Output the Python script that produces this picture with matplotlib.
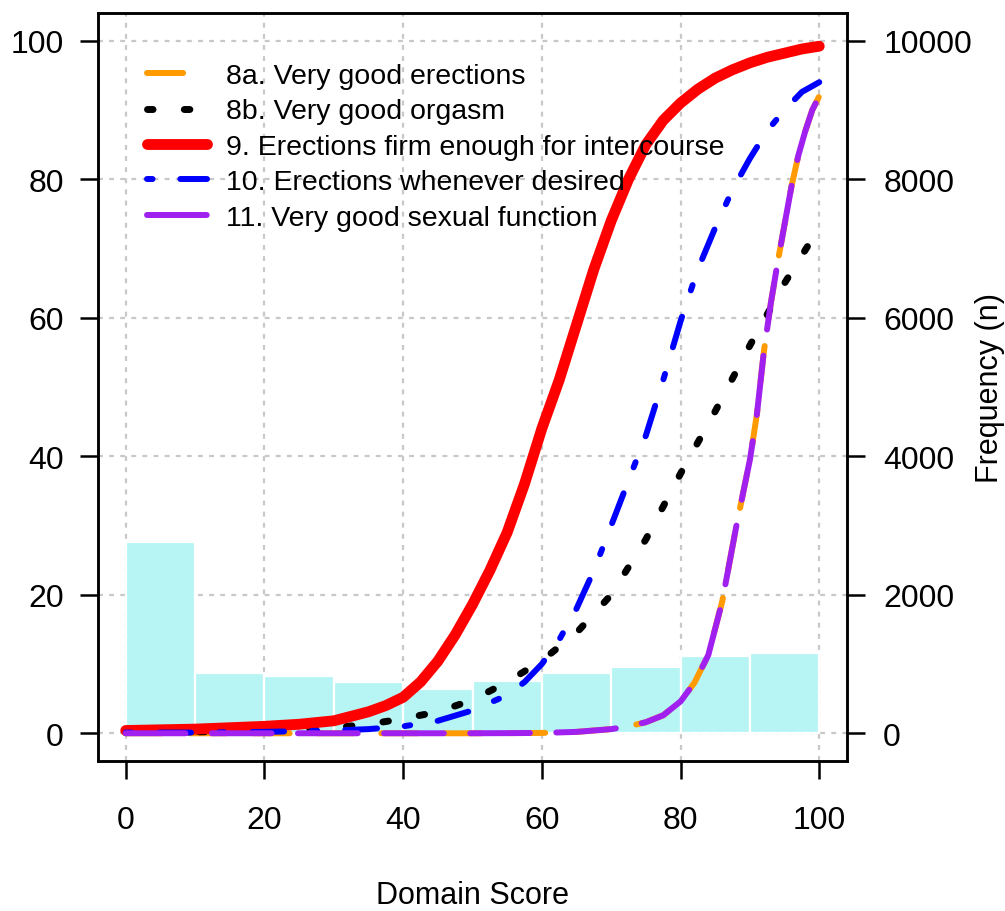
import numpy as np
import matplotlib
matplotlib.use("Agg")
import matplotlib.pyplot as plt

plt.rcParams['font.family'] = ['Liberation Sans', 'DejaVu Sans']
plt.rcParams['lines.scale_dashes'] = False

# histogram of domain scores (right axis, counts)
bin_left = [0, 10, 20, 30, 40, 50, 60, 70, 80, 90]
bin_counts = [2766, 866, 832, 746, 645, 760, 866, 962, 1116, 1164]

# probability curves (left axis, %)
red_x = [0, 5, 10, 15, 20, 25, 30, 35, 37.5, 40, 42.5, 45, 47.5, 50, 52.5, 55, 57.5, 60,
         62.5, 65, 67.5, 70, 72.5, 75, 77.5, 80, 82.5, 85, 87.5, 90, 92.5, 95, 97.5, 100]
red_y = [0.4, 0.5, 0.6, 0.8, 1.0, 1.3, 1.8, 3.1, 4.0, 5.2, 7.4, 10.4, 14.2, 18.6, 23.5, 29, 36, 44,
         51, 59, 67, 74, 80, 85, 88.5, 91, 93, 94.6, 95.8, 96.8, 97.6, 98.2, 98.8, 99.2]

blue_x = [0, 10, 20, 25, 30, 35, 40, 45, 50, 55, 57.5, 60, 62.5, 65, 67.5, 70, 72.5, 75,
          77.5, 80, 82.5, 85, 87.5, 90, 92.5, 95, 97.5, 100]
blue_y = [0.1, 0.1, 0.2, 0.3, 0.4, 0.6, 1.0, 1.8, 3.3, 5.5, 7.4, 10, 13.5, 18, 23.5, 30, 36.5, 43,
          51, 59.5, 67, 73, 78.5, 83, 87, 90, 92.6, 94]

black_x = [0, 10, 20, 25, 30, 35, 40, 45, 50, 55, 60, 65, 70, 75, 80, 85, 90, 95, 100]
black_y = [0.1, 0.2, 0.4, 0.6, 0.8, 1.3, 2.1, 3.1, 4.8, 7.4, 10.5, 14.5, 20, 28, 37.5, 46.5, 56, 65, 73]

purple_x = [0, 20, 40, 50, 55, 60, 65, 70, 72.5, 75, 77.5, 80, 82, 84, 86, 88, 90, 91, 92,
            93, 94, 95, 96, 97, 98, 99, 100]
purple_y = [0, 0, 0, 0, 0.02, 0.05, 0.2, 0.6, 1.0, 1.6, 2.6, 4.6, 7.3, 11.3, 19, 29.7, 39.5, 46, 55,
            62, 68, 73.5, 79, 83.5, 87, 90, 92]

orange_x = [0, 20, 40, 50, 55, 60, 65, 70, 72.5, 75, 77.5, 80, 82, 84, 86, 88, 90, 91, 92,
            93, 94, 95, 96, 97, 98, 99, 100]
orange_y = [0, 0, 0, 0, 0.02, 0.05, 0.2, 0.6, 1.0, 1.6, 2.6, 4.6, 7.3, 11.3, 19, 29.7, 39.5, 46, 55,
            62, 68, 73.5, 79, 83.5, 87, 90, 92]

labels = ["8a. Very good erections",
          "8b. Very good orgasm",
          "9. Erections firm enough for intercourse",
          "10. Erections whenever desired",
          "11. Very good sexual function"]

fs_tick = 23
fs_lab = 22
fs_leg = 20.5

fig = plt.figure(figsize=(10.05, 9.12), dpi=100)
ax = fig.add_axes([0.0975, 0.1645, 0.7453, 0.8202])
ax2 = ax.twinx()
ax.set_zorder(ax2.get_zorder() + 1)
ax.patch.set_visible(False)

# bars + grid on the right axis
ax2.set_axisbelow(True)
ax2.bar(bin_left, bin_counts, width=10, align='edge', color='#b7f4f4',
        edgecolor='white', linewidth=1.6)
ax2.set_ylim(-400, 10400)
ax2.set_yticks([0, 2000, 4000, 6000, 8000, 10000])
for g in [0, 20, 40, 60, 80, 100]:
    ax2.axvline(g, color='#c8c8c8', lw=1.6, dashes=(3.5, 4.5), zorder=0)
    ax2.axhline(g * 100, color='#c8c8c8', lw=1.6, dashes=(3.5, 4.5), zorder=0)

# curves on the left axis
ax.plot(orange_x, orange_y, color='#ff9a00', lw=4.3, dashes=(26, 20),
        dash_capstyle='round', label=labels[0])
ax.plot(black_x, black_y, color='black', lw=5, dashes=(4, 22.5),
        dash_capstyle='round', label=labels[1])
ax.plot(red_x, red_y, color='#ff0000', lw=7.8, solid_capstyle='round',
        solid_joinstyle='round', label=labels[2])
ax.plot(blue_x, blue_y, color='#0000ff', lw=4.3, dashes=(4, 20, 23, 20),
        dash_capstyle='round', label=labels[3])
ax.plot(purple_x, purple_y, color='#a020f0', lw=4.3, dashes=(43, 19),
        dash_capstyle='round', label=labels[4])

ax.set_xlim(-4, 104)
ax.set_ylim(-4, 104)
ax.set_xticks([0, 20, 40, 60, 80, 100])
ax.set_yticks([0, 20, 40, 60, 80, 100])

ax.tick_params(axis='y', length=13, width=1.8, labelsize=fs_tick, pad=11.5)
ax.tick_params(axis='x', length=13, width=1.8, labelsize=fs_tick, pad=19)
ax2.tick_params(axis='y', length=13, width=1.8, labelsize=fs_tick, pad=13)
for a in (ax, ax2):
    for s in a.spines.values():
        s.set_linewidth(1.8)

ax.set_xlabel("Domain Score", fontsize=fs_lab, labelpad=32)
ax2.set_ylabel("Frequency (n)", fontsize=fs_lab, labelpad=2)

ax.legend(loc='upper left', bbox_to_anchor=(0.066, 0.933), frameon=False,
          borderaxespad=0, borderpad=0, fontsize=fs_leg, handlelength=2.1,
          handletextpad=0.65, labelspacing=0.33)

fig.savefig("out.png", dpi=100)
